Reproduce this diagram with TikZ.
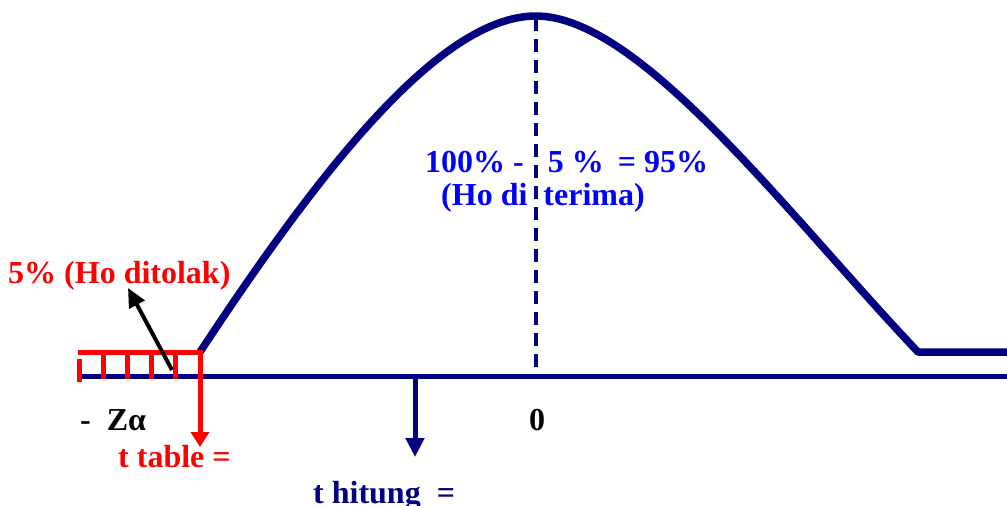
\documentclass[tikz,border=0pt]{standalone}
\usepackage{fontspec}
\setmainfont{Liberation Serif}
\usetikzlibrary{arrows.meta}
\definecolor{navy}{RGB}{0,0,128}
\definecolor{txtblue}{RGB}{0,0,255}
\definecolor{txtred}{RGB}{255,0,0}
\begin{document}
\begin{tikzpicture}[x=1pt,y=-1pt,
  lbl/.style={font=\fontsize{32}{36}\selectfont\bfseries, inner sep=0pt, anchor=base west},
  curveline/.style={navy, line width=7.5pt, line join=round},
  axisline/.style={navy, line width=5pt},
  hatch/.style={txtred, line width=5pt},
  redarrow/.style={txtred, line width=5pt, -{Triangle[length=15pt,width=18pt]}},
  bluearrow/.style={navy, line width=5pt, -{Triangle[length=19pt,width=18pt]}},
  blackarrow/.style={black, line width=4pt, -{Triangle[length=19pt,width=17pt]}}]
\useasboundingbox (0,0) rectangle (1007,506);
% coordinates
\coordinate (cs) at (200,352);
\coordinate (peak) at (536,16);
\coordinate (ce) at (918,352);
\coordinate (re) at (1007,352);
\coordinate (al) at (80,376);
\coordinate (ar) at (1007,376);
\coordinate (dtop) at (536,18);
\coordinate (dbot) at (536,372);
\coordinate (hl) at (78,352);
\coordinate (hr) at (203,352);
\coordinate (tt) at (200,447);
\coordinate (th0) at (415,376);
\coordinate (th1) at (415,457);
\coordinate (ba0) at (172,370);
\coordinate (ba1) at (128,288);
% curve
\draw[curveline] (cs) .. controls (320,170) and (440,16) .. (peak)
  .. controls (640,16) and (788,215) .. (ce) -- (re);
% axis
\draw[axisline] (al) -- (ar);
% dashed centre line
\draw[navy, line width=3.5pt, dash pattern=on 13pt off 8pt] (dtop) -- (dbot);
% rejection region hatch
\draw[hatch] (hl) -- (hr);
\foreach \x in {103,127,151,175} \draw[hatch] (\x,352) -- (\x,379);
\draw[hatch] (79,359) -- (79,382);
% arrows
\draw[redarrow] (200,352) -- (tt);
\draw[bluearrow] (th0) -- (th1);
\draw[blackarrow] (ba0) -- (ba1);
% texts
\node[lbl, txtred] (rej) at (8,283) {5\% (Ho ditolak)};
\node[lbl, txtblue] (acc1) at (425,172) {100\% -\hspace{24pt}5 \%\hspace{14pt}= 95\%};
\node[lbl, txtblue] (acc2) at (441,205) {(Ho di\hspace{16pt}terima)};
\node[lbl, black] (za) at (80,430) {-\hspace{16pt}Zα};
\node[lbl, black, anchor=base] (zero) at (537,430) {0};
\node[lbl, txtred] (ttab) at (118,467) {t table =};
\node[lbl, navy] (thit) at (313,503) {t hitung \ =};
\end{tikzpicture}
\end{document}
